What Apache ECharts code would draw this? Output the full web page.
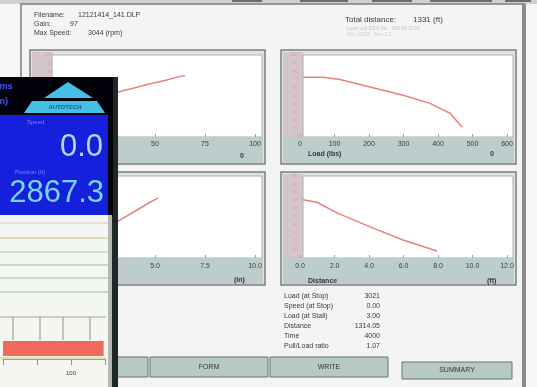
<!DOCTYPE html>
<html>
<head>
<meta charset="utf-8">
<script src="https://cdn.jsdelivr.net/npm/echarts@6/dist/echarts.min.js"></script>
<style>
  html, body { margin: 0; padding: 0; background: #f6f7f6; }
  #chart { width: 537px; height: 387px; }
</style>
</head>
<body>
<div id="chart"></div>
<script>
// ---- test record ----
const headerLabels = ['Filename:', 'Gain:', 'Max Speed:'];
const headerValues = ['12121414_141.DLP', '97', '3044 (rpm)'];
const totalLabel = 'Total distance:';
const totalValue = '1331 (ft)';

// speed curve (top left)
const speedX = [22, 31.5, 40, 47.5, 55, 61, 65];
const speedY = [50, 55, 60, 65, 69, 73, 75];
// load curve (top right)
const loadX = [9, 67, 116, 194, 299, 377, 435, 470];
const loadY = [73, 73, 70, 62, 51, 41, 29, 12];
// lift curve (bottom left)
const liftX = [1.8, 3.15, 4.0, 4.75, 5.15];
const liftY = [22, 45, 57, 68, 73];
// distance curve (bottom right)
const distX = [0.17, 0.99, 2.14, 4.06, 5.97, 7.94];
const distY = [71, 68, 55, 38, 22, 8.5];

// live readout
const speedNow = '0.0';
const positionNow = '2867.3';
const gaugeCats = ['Load', ''];
const gaugeValues = [148, '-'];

// summary
const statLabels = ['Load (at Stop)', 'Speed (at Stop)', 'Load (at Stall)', 'Distance', 'Time', 'Pull/Load ratio'];
const statValues = ['3021', '0.00', '3.00', '1314.05', '4000', '1.07'];

// buttons
const buttonLabels = ['', 'FORM', 'WRITE', 'SUMMARY'];

const FONT = '"Liberation Sans", Arial, sans-serif';
const els = [];
function rect(x, y, w, h, fill, stroke, lw, z) {
  els.push({ type: 'rect', z: z, shape: { x, y, width: w, height: h },
    style: { fill: fill, stroke: stroke || null, lineWidth: lw || 0 } });
}
function line(x1, y1, x2, y2, color, w, z) {
  els.push({ type: 'line', z: z, shape: { x1, y1, x2, y2 }, style: { stroke: color, lineWidth: w } });
}
function text(x, y, str, size, color, align, z, weight) {
  els.push({ type: 'text', z: z, style: { x, y, text: str, fill: color,
    font: (weight || 'normal') + ' ' + size + 'px ' + FONT,
    textAlign: align || 'left', textVerticalAlign: 'middle' } });
}
function poly(points, fill, z) {
  els.push({ type: 'polygon', z: z, shape: { points }, style: { fill } });
}

// window behind
rect(0, 0, 537, 4, '#cfd0cf', null, 0, 0);
[[232, 30], [300, 48], [372, 40], [430, 62], [505, 26]].forEach(function (s) { rect(s[0], 0, s[1], 2, '#6c6c6c', null, 0, 0); });
// dialog
rect(21, 4, 503, 390, '#f3f4f3', '#7d7d7d', 1.5, 0);
rect(522, 4, 4, 383, '#8a8b8a', null, 0, 0);

headerLabels.forEach(function (l, i) {
  text(34, 15 + i * 9, l, 7, '#3c3c3c', 'left', 1);
  text([78, 70, 88][i], 15 + i * 9, headerValues[i], 7, '#3c3c3c', 'left', 1);
});
text(345, 20, totalLabel, 8, '#3c3c3c', 'left', 1);
text(413, 20, totalValue, 8, '#3c3c3c', 'left', 1);
text(347, 29, 'Load cell 5000 lbs   S/N 04-2231', 5, '#c4c4c4', 'left', 1);
text(347, 35, 'Cal. 12/03   Rev 2.1', 5, '#cccccc', 'left', 1);

// chart panels
const panels = [
  { x: 30, y: 50, plotTop: 55, title: '', unit: '0', ux: 240, titleY: 156 },
  { x: 281, y: 50, plotTop: 55, title: 'Load (lbs)', unit: '0', ux: 490, titleY: 154 },
  { x: 30, y: 172, plotTop: 176, title: '', unit: '(in)', ux: 234, titleY: 280 },
  { x: 281, y: 172, plotTop: 176, title: 'Distance', unit: '(ft)', ux: 487, titleY: 281 }
];
panels.forEach(function (p) {
  const bottom = p.plotTop + 82;
  rect(p.x, p.y, 235, bottom + 27 - p.y, '#dfe3e1', '#7a8080', 1.5, 1);
  rect(p.x + 2, p.y + 2, 20, bottom - p.y - 2, '#d2c6ca', null, 0, 1);
  rect(p.x + 22, p.plotTop, 210, 82, '#ffffff', '#a9b0b0', 1, 1);
  rect(p.x + 2, bottom, 231, 26, '#bccdcc', null, 0, 1);
  if (p.title) text(p.x + 27, p.titleY, p.title, 7, '#2c3a3a', 'left', 2, 'bold');
  text(p.ux, p.titleY, p.unit, 7, '#2c3a3a', 'left', 2, 'bold');
});

// summary block
statLabels.forEach(function (l, i) {
  text(284, 296 + i * 10, l, 7, '#3a3a3a', 'left', 1);
  text(380, 296 + i * 10, statValues[i], 7, '#3a3a3a', 'right', 1);
});

// buttons
[[113, 357, 35, 20], [150, 357, 118, 20], [270, 357, 118, 20], [402, 362, 110, 17]].forEach(function (b, i) {
  rect(b[0], b[1], b[2], b[3], '#b6c9c4', '#65726f', 1, 1);
  if (buttonLabels[i]) text(b[0] + b[2] / 2, b[1] + b[3] / 2, buttonLabels[i], 7, '#2e3a38', 'center', 2);
});

// ---- live readout window ----
const OZ = 20;
rect(112, 77, 6, 310, '#1f2727', null, 0, OZ);
rect(0, 77, 113, 38, '#02020a', null, 0, OZ);
rect(0, 115, 108, 100, '#1520dc', null, 0, OZ);
rect(108, 115, 5, 100, '#02020a', null, 0, OZ);
text(-4, 87, 'rms', 9, '#3e58ff', 'left', OZ + 1, 'bold');
text(-6, 102, '(in)', 9, '#3e58ff', 'left', OZ + 1, 'bold');
poly([[68, 82], [44, 98], [93, 98]], '#46bfe6', OZ + 1);
poly([[32, 101], [97, 101], [105, 113], [24, 113]], '#46bfe6', OZ + 1);
text(65, 107, 'AUTOTECH', 6, '#1a5a8a', 'center', OZ + 2, 'bold');
text(27, 122, 'Speed', 6, '#6f8ae6', 'left', OZ + 1);
text(103, 147, speedNow, 31, '#b8d2f0', 'right', OZ + 1);
text(15, 172, 'Position (ft)', 6, '#6f8ae6', 'left', OZ + 1);
text(104, 193, positionNow, 31, '#7ad4ee', 'right', OZ + 1);

rect(0, 215, 108, 172, '#f3f6f1', null, 0, OZ);
rect(108, 215, 4, 172, '#b3b8b3', null, 0, OZ);
[[223, '#e6d6d0'], [238, '#ddd0a8'], [252, '#c9d5c1'], [265, '#b9d0b2'], [278, '#b9d0b2'], [292, '#b9d0b2']].forEach(function (l) {
  line(0, l[0], 108, l[0], l[1], 1.5, OZ + 1);
});
line(0, 317, 106, 317, '#9ea69e', 1, OZ + 1);
[13, 40, 63, 90].forEach(function (x) { line(x, 317, x, 340, '#8c928c', 1, OZ + 1); });
line(0, 358, 106, 358, '#e6d68c', 1.5, OZ + 1);

const plotLine = { type: 'line', showSymbol: false, z: 6, animation: false,
  lineStyle: { color: '#e8827f', width: 1.5 } };
function xy(xs, ys) { return xs.map(function (x, i) { return [x, ys[i]]; }); }

function xAxisOf(gi, max, interval, fmt, margin) {
  return { gridIndex: gi, type: 'value', min: 0, max: max, interval: interval, z: 5,
    axisLine: { show: false }, splitLine: { show: false },
    axisTick: { show: true, inside: true, length: 3, lineStyle: { color: '#9aa4a4' } },
    axisLabel: { fontSize: 7, color: '#33403f', margin: margin, fontFamily: FONT, formatter: fmt } };
}
function yAxisOf(gi) {
  return { gridIndex: gi, type: 'value', min: 0, max: 100, interval: 10, z: 5,
    axisLine: { show: false }, axisTick: { show: false }, splitLine: { show: false },
    axisLabel: { fontSize: 5, color: '#eb9fb4', margin: 2, fontFamily: FONT } };
}

const option = {
  animation: false,
  backgroundColor: '#f6f7f6',
  graphic: { elements: els },
  grid: [
    { left: 55, top: 55, width: 200, height: 82 },
    { left: 300, top: 55, width: 207, height: 82 },
    { left: 55, top: 176, width: 200, height: 82 },
    { left: 300, top: 176, width: 207, height: 82 },
    { left: -32, top: 317, width: 137, height: 42 }
  ],
  xAxis: [
    xAxisOf(0, 100, 25, function (v) { return String(v); }, 4),
    xAxisOf(1, 600, 100, function (v) { return String(v); }, 4),
    xAxisOf(2, 10, 2.5, function (v) { return v.toFixed(1); }, 5),
    xAxisOf(3, 12, 2, function (v) { return v.toFixed(1); }, 5),
    { gridIndex: 4, type: 'value', min: 0, max: 150, interval: 50, z: OZ + 5,
      axisLine: { show: true, lineStyle: { color: '#9a9f9a' } },
      axisTick: { show: true, length: 6, lineStyle: { color: '#8c928c' } },
      splitLine: { show: false },
      axisLabel: { fontSize: 6, color: '#3a3a3a', margin: 11, fontFamily: FONT,
        formatter: function (v) { return v === 100 ? '100' : ''; } } }
  ],
  yAxis: [
    yAxisOf(0), yAxisOf(1), yAxisOf(2), yAxisOf(3),
    { gridIndex: 4, type: 'category', data: gaugeCats, z: OZ + 5,
      axisLine: { show: false }, axisTick: { show: false }, axisLabel: { show: false } }
  ],
  series: [
    Object.assign({}, plotLine, { xAxisIndex: 0, yAxisIndex: 0, data: xy(speedX, speedY) }),
    Object.assign({}, plotLine, { xAxisIndex: 1, yAxisIndex: 1, data: xy(loadX, loadY) }),
    Object.assign({}, plotLine, { xAxisIndex: 2, yAxisIndex: 2, data: xy(liftX, liftY) }),
    Object.assign({}, plotLine, { xAxisIndex: 3, yAxisIndex: 3, data: xy(distX, distY) }),
    { type: 'bar', xAxisIndex: 4, yAxisIndex: 4, data: gaugeValues, barWidth: 15, z: OZ + 6,
      itemStyle: { color: '#f06a5c' }, animation: false }
  ]
};

const chart = echarts.init(document.getElementById('chart'), null, { renderer: 'canvas' });
chart.setOption(option);
</script>
</body>
</html>
